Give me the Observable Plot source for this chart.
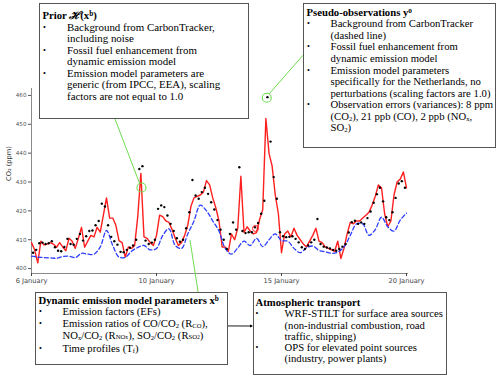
<!DOCTYPE html>
<html><head><meta charset="utf-8">
<script src="https://cdn.jsdelivr.net/npm/d3@7"></script>
<script src="https://cdn.jsdelivr.net/npm/@observablehq/plot@0.6"></script>
<style>
body{margin:0;background:#fff;}
#wrap{position:relative;width:500px;height:380px;overflow:hidden;background:#fff;}
#wrap > svg{position:absolute;left:0;top:0;}
.box{position:absolute;background:#fff;border:1px solid #555;box-sizing:border-box;font-family:"Liberation Serif","Times New Roman",serif;font-size:10.7px;color:#000;}
.box .t{font-weight:bold;white-space:nowrap;}
.box .b{position:relative;white-space:nowrap;}
.box .b .dot{position:absolute;font-size:8px;}
.box .b .txt{display:inline-block;transform-origin:0 50%;}
.box sub{font-size:0.62em;line-height:0;vertical-align:-0.1em;}
.box sub sub{font-size:0.85em;vertical-align:0;}
.box sup{font-size:0.68em;line-height:0;vertical-align:0.45em;}
</style></head>
<body><div id="wrap"></div>
<script>
// ---------- data ----------
// day of January, 3-hourly prior CO2 (ppm) starting at day 5.0
const priorStartDay = 5, priorStepDays = 0.125;
const priorCO2 = [
 409.0,406.5,402.0,409.5,408.2,408.5,409.0,408.5,407.4,409.0,
 407.5,406.2,410.5,409.5,407.0,410.5,414.3,407.4,409.5,411.5,
 411.0,414.3,412.6,418.5,424.5,417.5,417.5,415.0,409.7,409.0,
 404.0,407.5,407.0,408.0,418.0,433.0,411.0,410.5,409.0,408.0,
 411.5,418.5,418.0,416.5,416.0,413.5,410.5,408.0,409.0,411.5,
 415.0,421.5,424.5,425.0,425.5,426.5,430.5,429.0,424.5,421.0,
 416.5,407.5,407.5,406.0,412.0,410.0,414.0,432.0,412.5,414.5,
 413.0,412.0,412.5,417.0,420.5,452.0,440.0,435.5,425.5,419.0,
 405.5,412.0,413.0,411.0,414.0,411.5,410.0,408.5,407.5,409.5,
 411.5,414.0,409.5,409.0,407.5,407.0,406.5,406.0,409.5,403.5,
 407.0,412.0,416.0,415.5,416.5,416.5,417.5,418.5,419.5,422.0,
 425.0,429.0,428.0,419.0,414.5,416.5,425.5,430.0,431.0,433.5,
 428.0];
// pseudo-observations, 3-hourly, starting at day 5.0625
const obsStartDay = 5.0625, obsStepDays = 0.125;
const obsCO2 = [
 405.5,406.5,408.8,409.0,408.5,408.8,409.5,407.4,406.2,406.0,
 407.5,410.3,408.5,408.3,410.3,412.0,409.7,411.2,413.0,413.2,
 415.0,416.5,422.5,421.5,415.0,411.0,409.5,408.3,405.8,405.7,
 406.5,407.2,408.0,410.0,434.5,435.5,409.7,408.5,409.0,410.0,
 420.7,421.9,421.3,418.4,415.5,413.0,410.5,409.3,410.0,414.0,
 419.5,430.7,425.3,424.2,426.5,428.0,425.9,423.0,420.5,416.8,
 413.5,410.0,406.8,412.0,416.0,413.5,435.1,413.0,412.3,412.6,
 412.6,414.3,415.8,419.0,423.5,459.4,444.0,431.7,424.2,412.6,
 411.2,410.9,411.0,411.2,410.3,409.1,407.4,406.8,408.0,409.1,
 410.0,417.2,408.5,407.6,407.3,407.0,406.5,406.2,406.8,407.6,
 408.5,412.5,416.1,416.6,415.5,416.0,415.5,417.5,419.8,422.8,
 425.8,428.0,423.3,417.8,416.8,419.5,424.5,429.5,430.3,428.0];
// CarbonTracker background, 6-hourly from day 5.0
const bgStartDay = 5, bgStepDays = 0.25;
const bgCO2 = [
 404.3,404.0,403.8,403.7,403.6,404.2,404.3,403.8,405.3,405.0,
 405.0,407.5,413.2,408.0,404.0,403.9,406.0,407.3,408.0,406.5,
 407.0,411.5,413.8,408.0,407.0,412.0,416.5,422.0,420.0,416.5,
 413.0,407.0,405.0,407.2,409.5,408.0,410.5,407.6,410.0,412.0,
 409.7,409.5,407.0,405.5,407.2,407.8,406.3,405.8,405.3,405.7,
 407.5,411.5,415.5,415.5,411.5,413.5,417.8,414.5,413.0,416.8,
 419.2];
const yTicks = [400, 410, 420, 430, 440, 450, 460];
const xTicks = [5, 10, 15, 20];
const xTickLabels = ["6 January", "10 January", "15 January", "20 January"];
const yLabel = "CO\u2082 (ppm)";
// annotation targets (day, ppm)
const greenTargets = [{day: 9.4, co2: 428.1}, {day: 14.41, co2: 459.2}];
const redTargets = [{day: 13.96, co2: 413.9}];
const pointerTarget = {day: 11.36, co2: 409.7};

const boxes = [
 {id:"prior", title:'Prior <i>\u210B</i>(x<sup>b</sup>)', items:[
   "Background from CarbonTracker,<br>including noise",
   "Fossil fuel enhancement from<br>dynamic emission model",
   "Emission model parameters are<br>generic (from IPCC, EEA), scaling<br>factors are not equal to 1.0"]},
 {id:"obs", title:'Pseudo-observations y<sup>o</sup>', items:[
   "Background from CarbonTracker<br>(dashed line)",
   "Fossil fuel enhancement from<br>dynamic emission model",
   "Emission model parameters<br>specifically for the Netherlands, no<br>perturbations (scaling factors are 1.0)",
   "Observation errors (variances): 8 ppm<br>(CO<sub>2</sub>), 21 ppb (CO), 2 ppb (NO<sub>x</sub>,<br>SO<sub>2</sub>)"]},
 {id:"dyn", title:'Dynamic emission model parameters x<sup>b</sup>', items:[
   "Emission factors (EFs)",
   "Emission ratios of CO/CO<sub>2</sub> (R<sub>CO</sub>),<br>NO<sub>x</sub>/CO<sub>2</sub> (R<sub>NO<sub>x</sub></sub>), SO<sub>2</sub>/CO<sub>2</sub> (R<sub>SO<sub>2</sub></sub>)",
   "Time profiles (T<sub>f</sub>)"]},
 {id:"atm", title:'Atmospheric transport', items:[
   "WRF-STILT for surface area sources<br>(non-industrial combustion, road<br>traffic, shipping)",
   "OPS for elevated point sources<br>(industry, power plants)"]}
];

// ---------- layout (styles only) ----------
const boxLayout = {
 prior:{left:39, top:3, width:210, height:116, padTop:5.8, padLeft:2.5, lh:11.3, titleGap:0.7, itemGaps:[0.5,0.5], dotX:3, textX:24, sx:1.02},
 obs:{left:303, top:3, width:193, height:145, padTop:2.7, padLeft:2.5, lh:11.4, titleGap:0, itemGaps:[0.5,0.5,0.5], dotX:3, textX:24, sx:1.0},
 dyn:{left:35, top:292, width:193, height:73, padTop:1.8, padLeft:2.5, lh:11.6, titleGap:0, itemGaps:[0,1.8], dotX:3, textX:24, sx:1.0},
 atm:{left:253, top:292, width:194, height:83, padTop:4.1, padLeft:1.5, lh:11.2, titleGap:0, itemGaps:[0], dotX:1.5, textX:29, sx:1.0}
};

const series = (vals, start, step) => vals.map((v, i) => ({day: start + i * step, co2: v}));
const prior = series(priorCO2, priorStartDay, priorStepDays);
const obs = series(obsCO2, obsStartDay, obsStepDays);
const bg = series(bgCO2, bgStartDay, bgStepDays);

const green = "#6fdc4f";
const chart = Plot.plot({
  width: 500, height: 380,
  marginLeft: 31, marginRight: 92, marginTop: 88, marginBottom: 107,
  x: {domain: [5, 20.08]},
  y: {domain: [398.3, 462.4]},
  style: {fontFamily: "DejaVu Sans", background: "transparent", overflow: "visible"},
  marks: [
    Plot.ruleX([5], {stroke: "#8a8a8a", strokeWidth: 1}),
    Plot.ruleY([398.3], {stroke: "#8a8a8a", strokeWidth: 1}),
    Plot.axisY({ticks: yTicks, tickSize: 3, tickPadding: 2, fontSize: 5.6, label: null, color: "#555"}),
    Plot.axisX({ticks: xTicks, tickFormat: d => xTickLabels[xTicks.indexOf(d)], tickSize: 3, tickPadding: 2, fontSize: 6.7, label: null, color: "#444"}),
    Plot.line(prior, {x: "day", y: "co2", stroke: "#ff1f1f", strokeWidth: 1.4, strokeLinejoin: "round"}),
    Plot.line(bg, {x: "day", y: "co2", stroke: "#2b3cff", strokeWidth: 1.3, strokeDasharray: "4,2.5", curve: "catmull-rom"}),
    Plot.dot(obs, {x: "day", y: "co2", r: 1.2, fill: "#000", stroke: "none"}),
    Plot.dot(greenTargets, {x: "day", y: "co2", r: 4.5, fill: "none", stroke: green, strokeWidth: 1.1}),
    Plot.dot(redTargets, {x: "day", y: "co2", r: 3, fill: "none", stroke: "#ff2020", strokeWidth: 1}),
    Plot.text([yLabel], {frameAnchor: "left", rotate: -90, dx: -23, fontSize: 6.7, fill: "#333"})
  ]
});
const wrap = document.getElementById("wrap");
wrap.appendChild(chart);

// connectors overlay
const sx = chart.scale("x"), sy = chart.scale("y");
const L = boxLayout;
const ns = "http://www.w3.org/2000/svg";
const ov = document.createElementNS(ns, "svg");
ov.setAttribute("width", 500); ov.setAttribute("height", 380);
ov.style.position = "absolute"; ov.style.left = "0"; ov.style.top = "0";
function line(x1, y1, x2, y2, stroke, w) {
  const l = document.createElementNS(ns, "line");
  l.setAttribute("x1", x1); l.setAttribute("y1", y1); l.setAttribute("x2", x2); l.setAttribute("y2", y2);
  l.setAttribute("stroke", stroke); l.setAttribute("stroke-width", w);
  ov.appendChild(l);
}
function toCircle(ax, ay, t, r) {
  const cx = sx.apply(t.day), cy = sy.apply(t.co2);
  const dx = ax - cx, dy = ay - cy, d = Math.hypot(dx, dy);
  return [cx + dx / d * r, cy + dy / d * r];
}
{ const b = L.prior; const ax = b.left + b.width * 0.362, ay = b.top + b.height;
  const [ex, ey] = toCircle(ax, ay, greenTargets[0], 4.5); line(ax, ay, ex, ey, green, 1); }
{ const b = L.obs; const ax = b.left, ay = b.top + b.height * 0.36;
  const [ex, ey] = toCircle(ax, ay, greenTargets[1], 4.5); line(ax, ay, ex, ey, green, 1); }
{ const b = L.dyn; const ax = b.left + b.width * 0.845, ay = b.top;
  line(ax, ay, sx.apply(pointerTarget.day), sy.apply(pointerTarget.co2), green, 1); }
{ const a = L.dyn, b = L.atm; const y1 = a.top + a.height * 0.465, y2 = b.top + b.height * 0.41;
  line(a.left + a.width, y1, b.left - 1, y2, "#000", 0.9);
  const p = document.createElementNS(ns, "path");
  const tx = b.left, ty = y2;
  p.setAttribute("d", `M${tx},${ty} L${tx - 3},${ty - 1.5} L${tx - 3},${ty + 1.5} Z`);
  p.setAttribute("fill", "#000"); ov.appendChild(p); }
wrap.appendChild(ov);

// boxes
for (const bx of boxes) {
  const s = L[bx.id];
  const d = document.createElement("div");
  d.className = "box";
  Object.assign(d.style, {left: s.left + "px", top: s.top + "px", width: s.width + "px", height: s.height + "px",
    paddingTop: s.padTop + "px", paddingLeft: s.padLeft + "px", lineHeight: s.lh + "px"});
  const t = document.createElement("div"); t.className = "t"; t.innerHTML = bx.title;
  t.style.marginBottom = s.titleGap + "px";
  d.appendChild(t);
  bx.items.forEach((it, i) => {
    const b = document.createElement("div"); b.className = "b";
    b.style.paddingLeft = (s.textX) + "px";
    if (i > 0) b.style.marginTop = s.itemGaps[i - 1] + "px";
    b.innerHTML = `<span class="dot" style="left:${s.dotX - s.padLeft}px">\u2022</span><span class="txt" style="transform:scaleX(${s.sx})">${it}</span>`;
    d.appendChild(b);
  });
  wrap.appendChild(d);
}
</script></body></html>
